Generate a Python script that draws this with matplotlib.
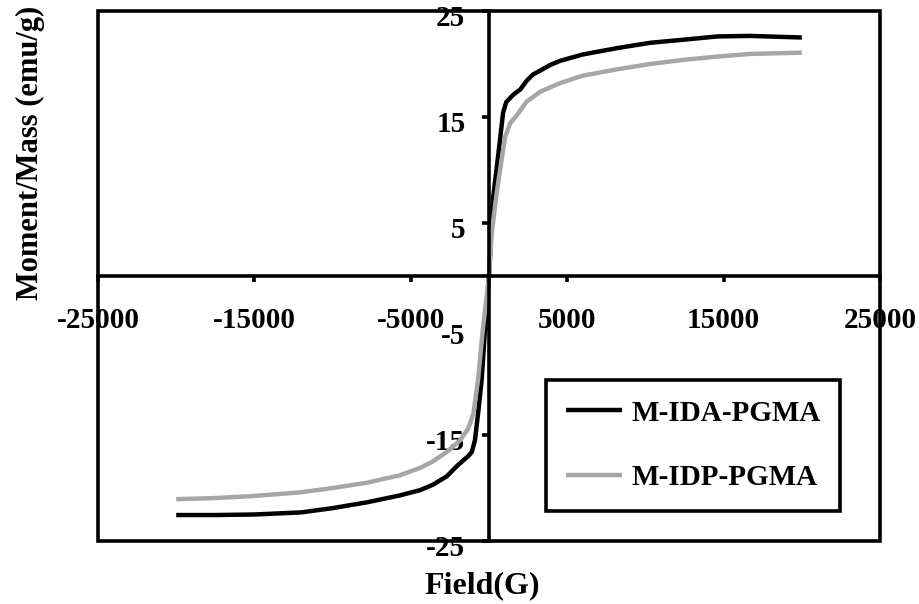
import matplotlib.pyplot as plt
from matplotlib.patches import Rectangle
from matplotlib.transforms import ScaledTranslation

plt.rcParams['font.family'] = ['Liberation Serif', 'DejaVu Serif']
plt.rcParams['font.weight'] = 'bold'

# M-IDA-PGMA (black)
ida_field = [-20000, -17500, -15000, -12000, -10000, -7800, -5700, -4400, -3600, -2700,
             -2100, -1650, -1330, -1100, -900, -700, -470, -260, 0,
             250, 500, 700, 900, 1100, 1550, 2000, 2400, 2800, 3300, 3900, 4550,
             6000, 8200, 10300, 12500, 14600, 16700, 20000]
ida_moment = [-22.55, -22.55, -22.5, -22.3, -21.9, -21.35, -20.7, -20.2, -19.7, -18.9,
              -18.0, -17.4, -17.0, -16.6, -15.5, -13.0, -9.8, -5.1, 0.0,
              7.2, 10.3, 12.8, 15.4, 16.4, 17.1, 17.6, 18.4, 19.0, 19.4, 19.9, 20.3,
              20.9, 21.5, 22.0, 22.3, 22.6, 22.65, 22.5]

# M-IDP-PGMA (gray)
idp_field = [-20000, -17500, -15000, -12000, -10000, -7800, -5700, -4400, -3600, -2700,
             -1850, -1330, -1000, -700, -400, 0,
             170, 490, 800, 1030, 1350, 1800, 2400, 3300, 4550,
             6000, 8200, 10300, 12500, 14600, 16700, 20000]
idp_moment = [-21.05, -20.95, -20.75, -20.4, -20.0, -19.5, -18.8, -18.1, -17.5, -16.6,
              -15.5, -14.4, -13.0, -9.8, -5.1, 0.0,
              4.0, 7.8, 10.9, 13.1, 14.4, 15.2, 16.45, 17.4, 18.2,
              18.9, 19.5, 20.0, 20.4, 20.7, 20.95, 21.07]

x_ticks = [-25000, -15000, -5000, 5000, 15000, 25000]
y_ticks = [-25, -15, -5, 5, 15, 25]
labels = ['M-IDA-PGMA', 'M-IDP-PGMA']

fig = plt.figure(figsize=(9.19, 6.04), dpi=100)
ax = fig.add_axes([98 / 919, 1 - 541 / 604, 782 / 919, 530 / 604])

ax.plot(ida_field, ida_moment, color='black', lw=3.2, solid_capstyle='butt', label=labels[0])
ax.plot(idp_field, idp_moment, color='#a6a6a6', lw=3.2, solid_capstyle='butt', label=labels[1])

ax.set_xlim(-25000, 25000)
ax.set_ylim(-25, 25)

for s in ['top', 'right']:
    ax.spines[s].set_visible(False)
for s in ['left', 'bottom']:
    ax.spines[s].set_position(('data', 0))
    ax.spines[s].set_linewidth(2.6)
    ax.spines[s].set_zorder(3)

ax.add_patch(Rectangle((0, 0), 1, 1, transform=ax.transAxes, fill=False,
                       lw=2.6, ec='black', clip_on=False, zorder=4))

ax.set_xticks(x_ticks)
ax.set_yticks(y_ticks)
ax.set_xticklabels([str(v) for v in x_ticks])
ax.set_yticklabels([str(v) for v in y_ticks])
ax.tick_params(axis='x', direction='out', length=4, width=2.6, pad=18, labelsize=21)
ax.tick_params(axis='y', direction='out', length=5, width=2.6, pad=12, labelsize=21)

off = ScaledTranslation(0, -5 / 100, fig.dpi_scale_trans)
for lab in ax.get_yticklabels():
    lab.set_transform(lab.get_transform() + off)

fig.text(30 / 919, 1 - 153 / 604, 'Moment/Mass (emu/g)', rotation=90,
         ha='center', va='center', fontsize=22, fontweight='bold')
fig.text(482 / 919, 1 - 586 / 604, 'Field(G)', ha='center', va='center',
         fontsize=23, fontweight='bold')

leg = ax.legend(loc='upper left', bbox_to_anchor=(546 / 919, 1 - 380 / 604),
                bbox_transform=fig.transFigure, borderaxespad=0, fancybox=False,
                edgecolor='black', framealpha=1, fontsize=21, handlelength=1.95,
                handletextpad=0.31, labelspacing=1.3, borderpad=0.67)
leg.get_frame().set_linewidth(2.6)
leg.set_zorder(5)

fig.savefig('out.png', dpi=100)
